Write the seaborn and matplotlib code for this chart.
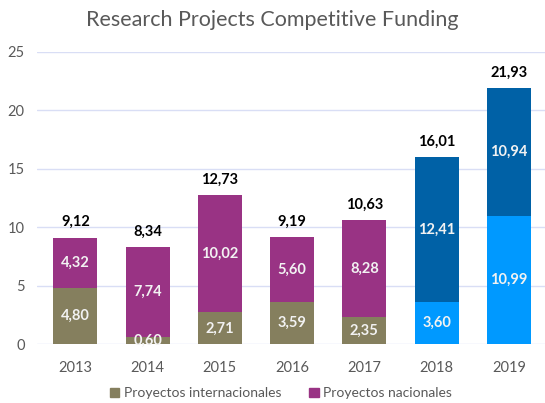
import pandas as pd
import matplotlib.pyplot as plt
import seaborn as sns
from matplotlib.patches import Patch

years = ["2013", "2014", "2015", "2016", "2017", "2018", "2019"]
internacionales = [4.80, 0.60, 2.71, 3.59, 2.35, 3.60, 10.99]
nacionales = [4.32, 7.74, 10.02, 5.60, 8.28, 12.41, 10.94]
totales = [9.12, 8.34, 12.73, 9.19, 10.63, 16.01, 21.93]

bottom_colors = ["#857F5E"] * 5 + ["#0099FF"] * 2
top_colors = ["#993384"] * 5 + ["#0061A6"] * 2

df = pd.DataFrame({"Year": years, "Int": internacionales, "Nac": nacionales, "Total": totales})

sns.set_style("white")
plt.rcParams["font.family"] = ["Lato", "DejaVu Sans"]

fig = plt.figure(figsize=(5.45, 4.03), dpi=100)
ax = fig.add_axes([0.068, 0.146, 0.932, 0.725])

# stacked: full total in top colour, then the bottom part drawn over it
sns.barplot(data=df, x="Year", y="Total", hue="Year", palette=top_colors,
            legend=False, width=0.61, ax=ax, saturation=1, linewidth=0)
sns.barplot(data=df, x="Year", y="Int", hue="Year", palette=bottom_colors,
            legend=False, width=0.61, ax=ax, saturation=1, linewidth=0)

for i, row in df.iterrows():
    ax.text(i, row["Int"] / 2, f"{row['Int']:.2f}".replace(".", ","),
            ha="center", va="center", color="#F2F2F2", fontsize=10.5, fontweight="bold")
    ax.text(i, row["Int"] + row["Nac"] / 2, f"{row['Nac']:.2f}".replace(".", ","),
            ha="center", va="center", color="#F2F2F2", fontsize=10.5, fontweight="bold")
    ax.annotate(f"{row['Total']:.2f}".replace(".", ","), (i, row["Total"]),
                xytext=(0, 6), textcoords="offset points",
                ha="center", va="bottom", color="black", fontsize=10.5, fontweight="bold")

ax.set_ylim(0, 25)
ax.set_xlim(-0.53, 6.5)
ax.set_yticks([0, 5, 10, 15, 20, 25])
ax.yaxis.grid(True, color="#D9DEF5", linewidth=1)
ax.set_axisbelow(True)
for s in ax.spines.values():
    s.set_visible(False)
ax.tick_params(axis="both", length=0, labelsize=10.5, labelcolor="#595959")
ax.tick_params(axis="y", pad=9)
ax.tick_params(axis="x", pad=12)
ax.set_xlabel("")
ax.set_ylabel("")

fig.suptitle("Research Projects Competitive Funding", y=0.975, fontsize=15.5, color="#595959")

handles = [Patch(color="#857F5E", label="Proyectos internacionales"),
           Patch(color="#993384", label="Proyectos nacionales")]
fig.legend(handles=handles, loc="lower center", bbox_to_anchor=(0.515, -0.022), ncol=2,
           frameon=False, fontsize=10, handlelength=0.7, handleheight=0.7,
           handletextpad=0.3, columnspacing=2.0, labelcolor="#595959")

fig.savefig("out.png", dpi=100)
